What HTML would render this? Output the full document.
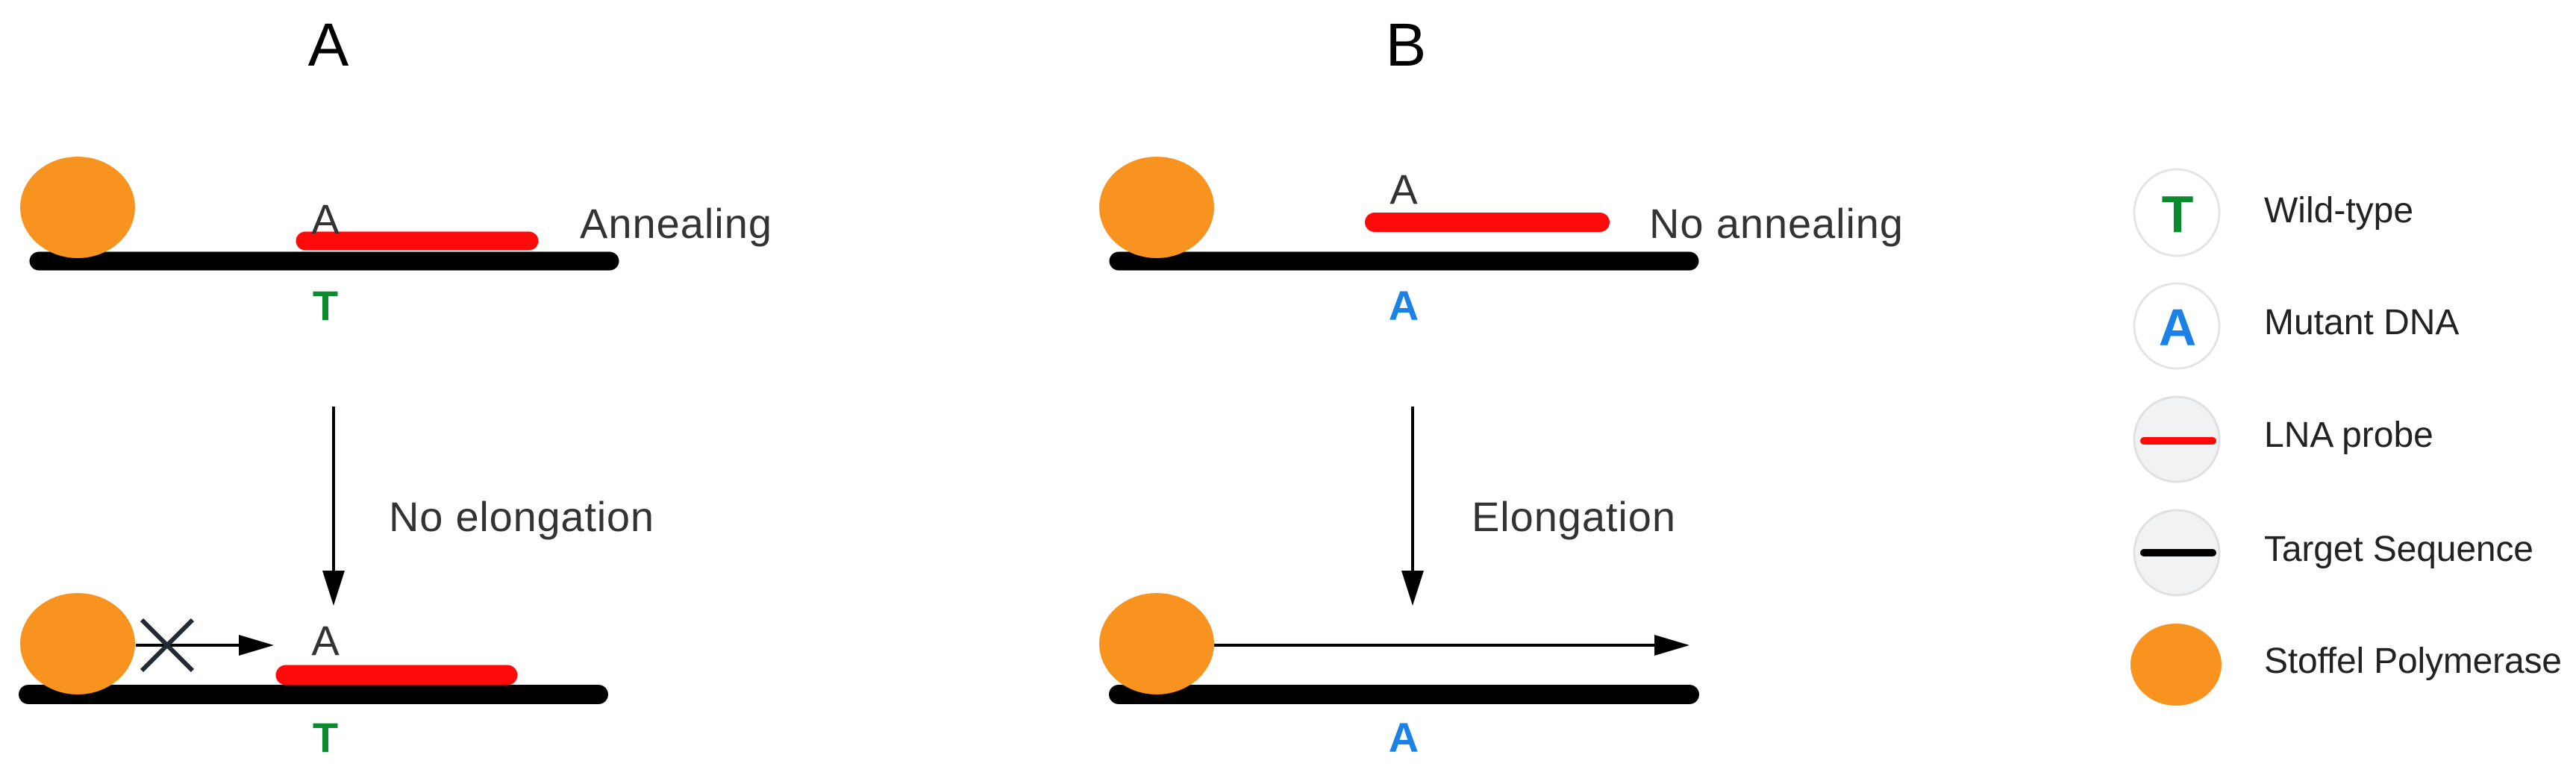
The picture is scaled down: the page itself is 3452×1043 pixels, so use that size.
<!DOCTYPE html>
<html><head><meta charset="utf-8"><style>html,body{margin:0;padding:0;background:#fff}svg{display:block}</style></head>
<body>
<svg width="3452" height="1043" viewBox="0 0 3452 1043" xmlns="http://www.w3.org/2000/svg" font-family="Liberation Sans, Arial, sans-serif">
<defs>
<marker id="ah" markerWidth="10" markerHeight="10" refX="9" refY="5" orient="auto" markerUnits="userSpaceOnUse" viewBox="0 0 10 10">
<path d="M0,0 L10,5 L0,10 z" fill="#000"/></marker>
</defs>
<!-- Panel A -->
<text x="440" y="88" font-size="82" text-anchor="middle" fill="#000">A</text>
<line x1="52" y1="350" x2="817" y2="350" stroke="#000" stroke-width="25" stroke-linecap="round"/>
<line x1="409" y1="323" x2="709" y2="323" stroke="#ff0a0a" stroke-width="25" stroke-linecap="round"/>
<ellipse cx="104" cy="278" rx="77" ry="68" fill="#f7931e"/>
<text x="436" y="313" font-size="56" text-anchor="middle" fill="#333">A</text>
<text x="777" y="319" font-size="56" fill="#333" textLength="257">Annealing</text>
<text x="436" y="429" font-size="56" font-weight="bold" text-anchor="middle" fill="#0b8a2e">T</text>
<line x1="447" y1="545" x2="447" y2="770" stroke="#000" stroke-width="4"/>
<path d="M432,765 L462,765 L447,812 z" fill="#000"/>
<text x="521" y="712" font-size="56" fill="#333" textLength="355">No elongation</text>
<line x1="38" y1="931" x2="802" y2="931" stroke="#000" stroke-width="26" stroke-linecap="round"/>
<line x1="383" y1="905" x2="680" y2="905" stroke="#ff0a0a" stroke-width="27" stroke-linecap="round"/>
<ellipse cx="104" cy="863" rx="77" ry="68" fill="#f7931e"/>
<line x1="182" y1="865" x2="330" y2="865" stroke="#000" stroke-width="4"/>
<path d="M320,851 L367,865 L320,879 z" fill="#000"/>
<line x1="190" y1="831" x2="258" y2="899" stroke="#222a35" stroke-width="6"/>
<line x1="258" y1="831" x2="190" y2="899" stroke="#222a35" stroke-width="6"/>
<text x="436" y="878" font-size="56" text-anchor="middle" fill="#333">A</text>
<text x="436" y="1008" font-size="56" font-weight="bold" text-anchor="middle" fill="#0b8a2e">T</text>
<!-- Panel B -->
<text x="1884" y="88" font-size="82" text-anchor="middle" fill="#000">B</text>
<line x1="1499" y1="350" x2="2264" y2="350" stroke="#000" stroke-width="25" stroke-linecap="round"/>
<line x1="1842" y1="298" x2="2144" y2="298" stroke="#ff0a0a" stroke-width="26" stroke-linecap="round"/>
<ellipse cx="1550" cy="278" rx="77" ry="68" fill="#f7931e"/>
<text x="1881" y="273" font-size="56" text-anchor="middle" fill="#333">A</text>
<text x="2210" y="319" font-size="56" fill="#333" textLength="340">No annealing</text>
<text x="1881" y="429" font-size="56" font-weight="bold" text-anchor="middle" fill="#1a82e6">A</text>
<line x1="1893" y1="545" x2="1893" y2="770" stroke="#000" stroke-width="4"/>
<path d="M1878,765 L1908,765 L1893,812 z" fill="#000"/>
<text x="1972" y="712" font-size="56" fill="#333" textLength="273">Elongation</text>
<line x1="1499" y1="931" x2="2264" y2="931" stroke="#000" stroke-width="26" stroke-linecap="round"/>
<ellipse cx="1550" cy="863" rx="77" ry="68" fill="#f7931e"/>
<line x1="1627" y1="865" x2="2225" y2="865" stroke="#000" stroke-width="4"/>
<path d="M2217,851 L2264,865 L2217,879 z" fill="#000"/>
<text x="1881" y="1008" font-size="56" font-weight="bold" text-anchor="middle" fill="#1a82e6">A</text>
<!-- Legend -->
<ellipse cx="2917" cy="285" rx="57" ry="58" fill="#fff" stroke="#e4e4e4" stroke-width="3"/>
<text x="2918" y="311" font-size="70" font-weight="bold" text-anchor="middle" fill="#0b8a2e">T</text>
<text x="3034" y="298" font-size="48" fill="#222">Wild-type</text>
<ellipse cx="2917" cy="437" rx="57" ry="57" fill="#fff" stroke="#e4e4e4" stroke-width="3"/>
<text x="2918" y="463" font-size="70" font-weight="bold" text-anchor="middle" fill="#1a82e6">A</text>
<text x="3034" y="448" font-size="48" fill="#222">Mutant DNA</text>
<ellipse cx="2917" cy="589" rx="57" ry="57" fill="#f1f2f4" stroke="#e0e0e0" stroke-width="3"/>
<line x1="2873" y1="591" x2="2965" y2="591" stroke="#ff0a0a" stroke-width="10" stroke-linecap="round"/>
<text x="3034" y="599" font-size="48" fill="#222">LNA probe</text>
<ellipse cx="2917" cy="741" rx="57" ry="57" fill="#f1f2f4" stroke="#e0e0e0" stroke-width="3"/>
<line x1="2873" y1="741" x2="2965" y2="741" stroke="#000" stroke-width="10" stroke-linecap="round"/>
<text x="3034" y="752" font-size="48" fill="#222" textLength="361">Target Sequence</text>
<ellipse cx="2916" cy="891" rx="61" ry="55" fill="#f7931e"/>
<text x="3034" y="902" font-size="48" fill="#222" textLength="399">Stoffel Polymerase</text>
</svg>
</body></html>
